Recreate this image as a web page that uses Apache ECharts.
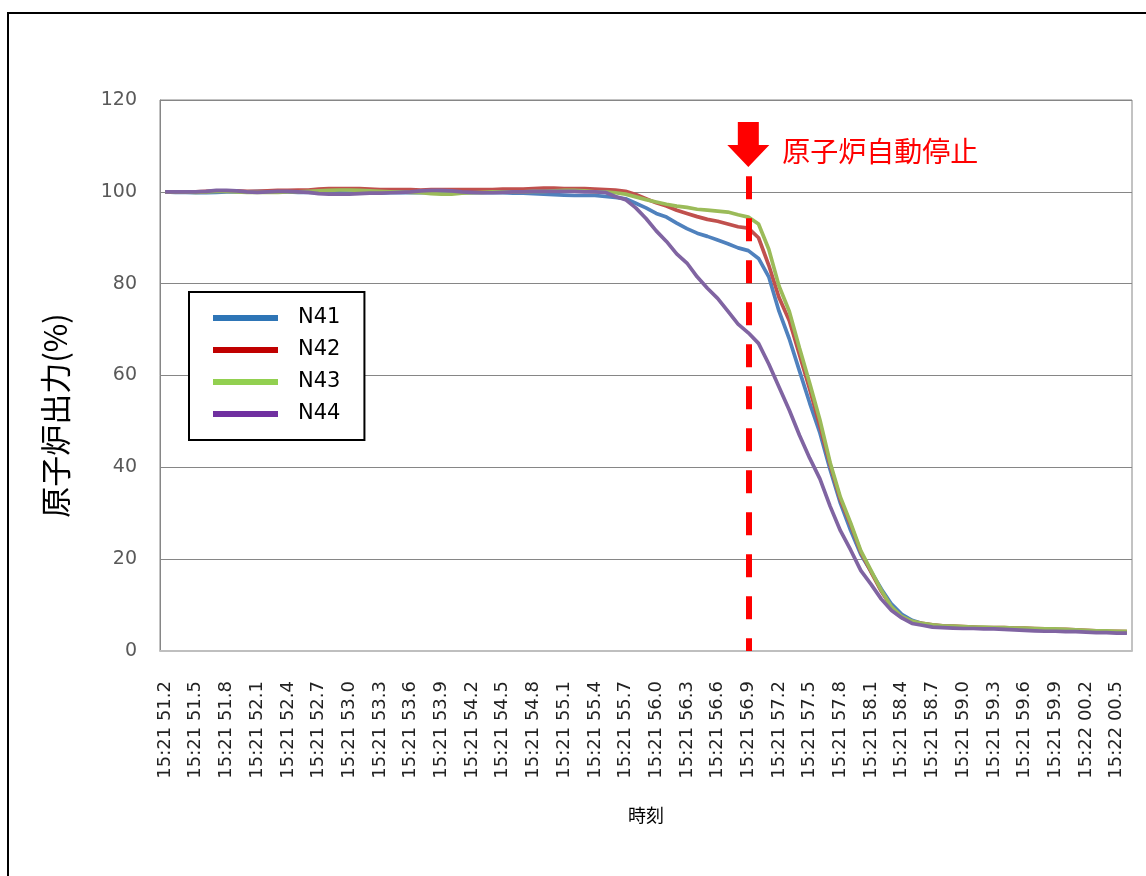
<!DOCTYPE html>
<html>
<head>
<meta charset="utf-8">
<style>
html,body{margin:0;padding:0;background:#fff;overflow:hidden;}
#chart{width:1146px;height:876px;}
</style>
<script src="https://cdn.jsdelivr.net/npm/echarts@6/dist/echarts.min.js"></script>
</head>
<body>
<div id="chart"></div>
<script>
var categories = [
'15:21 51.2','15:21 51.3','15:21 51.4','15:21 51.5','15:21 51.6','15:21 51.7','15:21 51.8','15:21 51.9',
'15:21 52.0','15:21 52.1','15:21 52.2','15:21 52.3','15:21 52.4','15:21 52.5','15:21 52.6','15:21 52.7','15:21 52.8','15:21 52.9',
'15:21 53.0','15:21 53.1','15:21 53.2','15:21 53.3','15:21 53.4','15:21 53.5','15:21 53.6','15:21 53.7','15:21 53.8','15:21 53.9',
'15:21 54.0','15:21 54.1','15:21 54.2','15:21 54.3','15:21 54.4','15:21 54.5','15:21 54.6','15:21 54.7','15:21 54.8','15:21 54.9',
'15:21 55.0','15:21 55.1','15:21 55.2','15:21 55.3','15:21 55.4','15:21 55.5','15:21 55.6','15:21 55.7','15:21 55.8','15:21 55.9',
'15:21 56.0','15:21 56.1','15:21 56.2','15:21 56.3','15:21 56.4','15:21 56.5','15:21 56.6','15:21 56.7','15:21 56.8','15:21 56.9',
'15:21 57.0','15:21 57.1','15:21 57.2','15:21 57.3','15:21 57.4','15:21 57.5','15:21 57.6','15:21 57.7','15:21 57.8','15:21 57.9',
'15:21 58.0','15:21 58.1','15:21 58.2','15:21 58.3','15:21 58.4','15:21 58.5','15:21 58.6','15:21 58.7','15:21 58.8','15:21 58.9',
'15:21 59.0','15:21 59.1','15:21 59.2','15:21 59.3','15:21 59.4','15:21 59.5','15:21 59.6','15:21 59.7','15:21 59.8','15:21 59.9',
'15:22 00.0','15:22 00.1','15:22 00.2','15:22 00.3','15:22 00.4','15:22 00.5','15:22 00.6'
];

var N41 = [
100.0,99.9,99.9,99.8,99.8,99.9,100.0,100.0,100.0,100.1,100.1,100.0,100.0,99.9,99.9,
99.8,99.8,99.8,99.7,99.7,99.7,99.7,99.8,99.8,99.8,99.8,99.9,99.9,99.8,99.8,99.8,99.8,99.8,99.8,99.7,99.7,
99.6,99.5,99.4,99.3,99.2,99.2,
99.2,99.0,98.8,98.5,97.5,96.5,95.3,94.5,93.2,92.0,91.0,90.3,89.5,88.7,87.8,87.2,85.5,
81.5,74.0,68.0,61.0,54.0,47.5,39.5,32.2,26.3,21.0,17.3,13.5,10.2,8.0,6.7,6.0,5.6,
5.4,5.3,5.2,5.1,5.0,5.0,5.0,4.9,4.8,4.7,4.6,4.5,4.5,4.4,4.3,4.2,4.1,4.1,4.0
];
var N42 = [
100.0,100.0,100.0,100.0,100.1,100.2,100.2,100.2,100.1,100.1,100.2,100.3,100.3,100.4,100.4,
100.6,100.7,100.7,100.7,100.7,100.6,100.5,100.5,100.5,100.5,100.4,100.5,100.5,100.5,100.5,100.5,100.5,100.5,100.6,100.6,100.6,
100.7,100.8,100.8,100.7,100.7,100.7,
100.6,100.5,100.4,100.1,99.4,98.5,97.6,96.9,96.0,95.3,94.6,94.0,93.6,93.0,92.4,92.1,90.0,
84.0,77.0,72.0,64.5,57.0,49.0,40.5,33.0,27.5,21.5,17.2,13.0,9.5,7.3,6.4,6.0,5.7,
5.5,5.4,5.3,5.2,5.1,5.1,5.1,5.0,5.0,4.9,4.8,4.7,4.7,4.6,4.5,4.4,4.3,4.3,4.2
];
var N43 = [
100.0,100.0,100.0,99.9,100.0,100.1,100.1,100.0,99.9,99.9,99.9,99.9,100.0,100.0,100.1,
100.2,100.3,100.4,100.4,100.3,100.2,100.1,100.0,100.0,99.9,99.8,99.6,99.5,99.5,99.7,99.8,99.9,100.0,100.0,100.0,100.0,
100.1,100.1,100.2,100.3,100.3,100.2,
100.0,100.0,99.8,99.5,98.9,98.3,97.8,97.3,96.9,96.6,96.2,96.0,95.8,95.6,95.0,94.5,93.0,
87.5,79.5,74.0,66.0,58.3,50.3,41.0,33.5,27.9,21.8,17.5,13.2,9.6,7.5,6.5,6.0,5.7,
5.5,5.4,5.3,5.2,5.2,5.1,5.1,5.0,5.0,4.9,4.8,4.8,4.7,4.6,4.5,4.4,4.4,4.3,4.3
];
var N44 = [
100.0,100.0,100.0,100.0,100.1,100.3,100.3,100.2,100.0,99.9,100.0,100.1,100.1,100.0,99.9,
99.6,99.5,99.5,99.5,99.6,99.7,99.7,99.8,99.9,100.0,100.2,100.3,100.3,100.2,100.0,99.9,99.8,99.8,99.9,100.0,100.0,
100.1,100.1,100.1,100.1,100.1,100.0,
100.0,99.9,99.0,98.3,96.5,94.2,91.5,89.2,86.5,84.5,81.5,79.0,76.8,74.0,71.2,69.3,67.0,
62.5,57.5,52.5,47.0,42.0,37.5,31.5,26.2,22.0,17.5,14.5,11.3,8.8,7.2,6.0,5.6,5.2,
5.1,5.0,4.9,4.9,4.8,4.8,4.7,4.6,4.5,4.4,4.3,4.3,4.2,4.2,4.1,4.0,4.0,3.9,3.9
];

var seriesNames = ['N41','N42','N43','N44'];
var lineColors = ['#4F81BD','#C0504D','#9BBB59','#8064A2'];
var legendColors = ['#2E75B6','#C00000','#92D050','#7030A0'];
var yTicks = {min: 0, max: 120, interval: 20};
var tripTime = '15:21 56.9';
var tripLineTop = 103.4;
var tripArrowY = 110.3;
var tripLabel = '原子炉自動停止';
var yName = '原子炉出力(%)';
var xName = '時刻';

var dataSets = [N41, N42, N43, N44];
var series = dataSets.map(function (d, i) {
  return {
    name: seriesNames[i],
    type: 'line',
    data: d,
    symbol: 'none',
    smooth: false,
    lineStyle: {color: lineColors[i], width: 3.7},
    itemStyle: {color: lineColors[i]},
    z: 2 + i,
    animation: false
  };
});
series.push({
  name: 'trip',
  type: 'line',
  data: [],
  silent: true,
  z: 10,
  markLine: {
    silent: true,
    symbol: ['none', 'none'],
    animation: false,
    label: {show: false},
    lineStyle: {color: '#FF0000', width: 6, type: [23, 19]},
    data: [[{xAxis: tripTime, yAxis: tripLineTop}, {xAxis: tripTime, yAxis: 0}]]
  },
  markPoint: {
    silent: true,
    animation: false,
    symbol: 'path://M10.5,0 L31.5,0 L31.5,23 L42,23 L21,45 L0,23 L10.5,23 Z',
    symbolSize: [42, 45],
    symbolKeepAspect: false,
    itemStyle: {color: '#FF0000'},
    label: {
      show: true,
      position: 'right',
      distance: 13,
      offset: [0, 7],
      formatter: tripLabel,
      color: '#FF0000',
      fontSize: 28,
      fontFamily: 'Noto Sans CJK JP'
    },
    data: [{coord: [tripTime, tripArrowY]}]
  }
});

var chart = echarts.init(document.getElementById('chart'), null, {renderer: 'canvas'});
chart.setOption({
  backgroundColor: '#ffffff',
  animation: false,
  graphic: [{
    type: 'rect',
    shape: {x: 8, y: 13, width: 1300, height: 1000},
    style: {fill: 'none', stroke: '#000', lineWidth: 2},
    silent: true,
    z: 100
  }],
  grid: {
    left: 160, top: 100, right: 14, bottom: 225,
    show: true, borderColor: '#868686', borderWidth: 1, backgroundColor: 'transparent'
  },
  legend: {
    orient: 'vertical',
    left: 189, top: 292,
    padding: [15, 24, 15, 24],
    itemGap: 10,
    itemWidth: 65,
    itemHeight: 6,
    icon: 'rect',
    borderColor: '#000',
    borderWidth: 2,
    backgroundColor: '#fff',
    textStyle: {fontFamily: 'DejaVu Sans', fontSize: 21, color: '#000', lineHeight: 22, padding: [0, 0, 0, 15]},
    data: seriesNames.map(function (n, i) {
      return {name: n, itemStyle: {color: legendColors[i]}};
    }),
    z: 20
  },
  xAxis: {
    type: 'category',
    data: categories,
    boundaryGap: true,
    name: xName,
    nameLocation: 'middle',
    nameGap: 155,
    nameTextStyle: {fontFamily: 'Noto Sans CJK JP', fontSize: 18, color: '#000', verticalAlign: 'top'},
    axisLine: {show: true, lineStyle: {color: '#BFBFBF', width: 2}},
    axisTick: {show: false},
    splitLine: {show: false},
    axisLabel: {
      interval: 2,
      rotate: 90,
      margin: 30,
      fontFamily: 'DejaVu Sans',
      fontSize: 18,
      color: '#222'
    }
  },
  yAxis: {
    type: 'value',
    min: yTicks.min, max: yTicks.max, interval: yTicks.interval,
    name: yName,
    nameLocation: 'middle',
    nameGap: 89,
    nameTextStyle: {fontFamily: 'Noto Sans CJK JP', fontSize: 31, color: '#000', padding: [0, 80, 0, 0]},
    axisLine: {show: true, lineStyle: {color: '#868686', width: 1}},
    axisTick: {show: false},
    splitLine: {show: true, lineStyle: {color: '#868686', width: 1}},
    axisLabel: {margin: 23, fontFamily: 'DejaVu Sans', fontSize: 19, color: '#595959'}
  },
  series: series
});
</script>
</body>
</html>
